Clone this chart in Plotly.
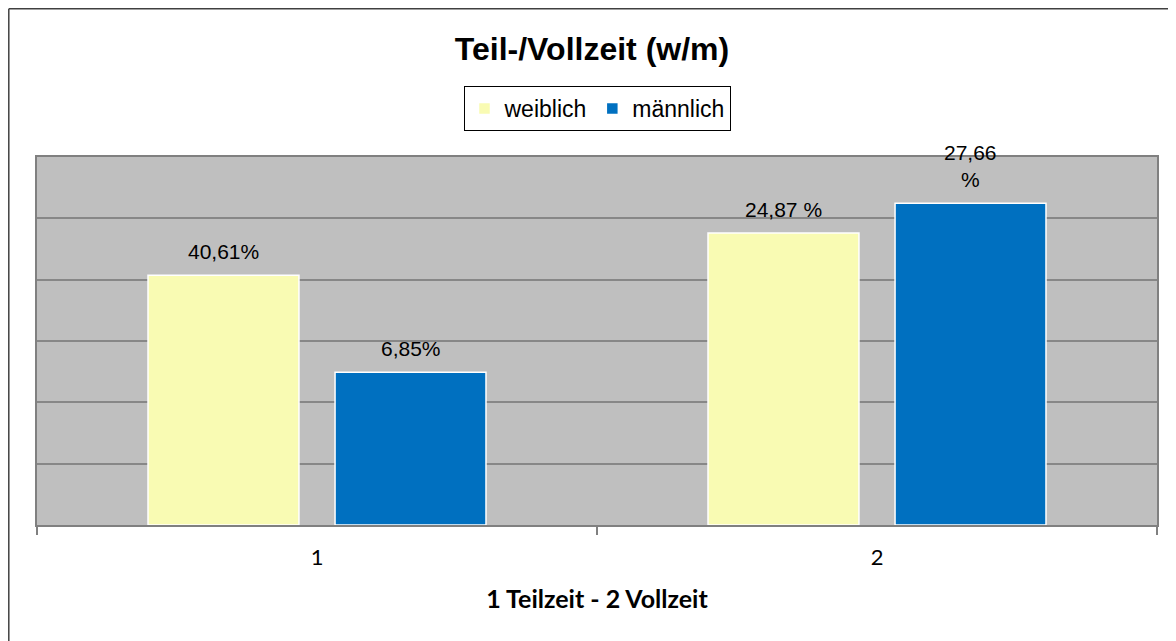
import plotly.graph_objects as go

categories = ["1", "2"]
weiblich_values = [40.7, 47.6]
maennlich_values = [24.9, 52.45]
weiblich_labels = ["40,61%", "24,87 %"]
maennlich_labels = ["6,85%", "27,66<br>%"]
series_names = ["weiblich", "männlich"]

YELLOW = "#F9FBB3"
BLUE = "#0070C0"
GRID = "#878787"
AXIS = "#808080"

BARGAP = 0.332
BARGROUPGAP = 0.193

# page body has an 8px margin, so the figure is sized to fit the window
W, H = 1168, 633
ML, MR, MT, MB = 29, 19, 149, 116
PW, PH = W - ML - MR, H - MT - MB

fig = go.Figure()
fig.add_trace(go.Bar(x=categories, y=weiblich_values, name=series_names[0],
                     marker=dict(color=YELLOW, line=dict(color="white", width=1.5))))
fig.add_trace(go.Bar(x=categories, y=maennlich_values, name=series_names[1],
                     marker=dict(color=BLUE, line=dict(color="white", width=1.5))))

off = (1 - BARGAP) / 4
label_font = dict(family="Liberation Sans", size=21, color="black")
annotations = []
for i, (v, t) in enumerate(zip(weiblich_values, weiblich_labels)):
    annotations.append(dict(x=i - off, y=v, xref="x", yref="y", text=t, showarrow=False,
                            yanchor="bottom", yshift=10, font=label_font))
for i, (v, t) in enumerate(zip(maennlich_values, maennlich_labels)):
    annotations.append(dict(x=i + off, y=v, xref="x", yref="y", text=t, showarrow=False,
                            yanchor="bottom", yshift=10, font=label_font))

fig.update_layout(
    width=W, height=H,
    margin=dict(l=ML, r=MR, t=MT, b=MB),
    paper_bgcolor="white",
    plot_bgcolor="#BFBFBF",
    barmode="group",
    bargap=BARGAP,
    bargroupgap=BARGROUPGAP,
    title=dict(text="<b>Teil-/Vollzeit (w/m)</b>", x=0.5, xanchor="center",
               y=1 - 41 / H, yanchor="middle", yref="container",
               font=dict(family="Liberation Sans", size=32, color="black")),
    legend=dict(orientation="h", x=0.5, xanchor="center", y=1 + (MT - 78) / PH, yanchor="top",
                bordercolor="black", borderwidth=1, bgcolor="white",
                font=dict(family="Liberation Sans", size=23, color="black"),
                itemwidth=30, traceorder="normal"),
    annotations=annotations,
    showlegend=True,
)

fig.update_xaxes(
    type="category",
    showline=True, linecolor=AXIS, linewidth=2, mirror=True,
    ticks="outside", tickson="boundaries", ticklen=8, tickcolor=AXIS, tickwidth=2,
    showgrid=False,
    tickfont=dict(family="Lato", size=22, color="black"),
    ticklabelstandoff=12,
    title=dict(text="<b>1 Teilzeit - 2 Vollzeit</b>", standoff=21,
               font=dict(family="Lato", size=25, color="black")),
)
fig.update_yaxes(
    range=[0, 60], dtick=10,
    showticklabels=False,
    showgrid=True, gridcolor=GRID, gridwidth=2,
    showline=True, linecolor=AXIS, linewidth=2, mirror=True,
    zeroline=False,
)

# outer chart frame (left and top edges visible)
fx = (0.8 - ML) / PW
fy = 1 + (MT - 0.8) / PH
fig.add_shape(type="line", xref="paper", yref="paper",
              x0=fx, x1=fx, y0=fy, y1=-(H + 20 - (H - MB)) / PH,
              line=dict(color="#404040", width=1.5))
fig.add_shape(type="line", xref="paper", yref="paper",
              x0=fx, x1=(W + 20 - ML) / PW, y0=fy, y1=fy,
              line=dict(color="#404040", width=1.5))

fig.write_html("out.html")
